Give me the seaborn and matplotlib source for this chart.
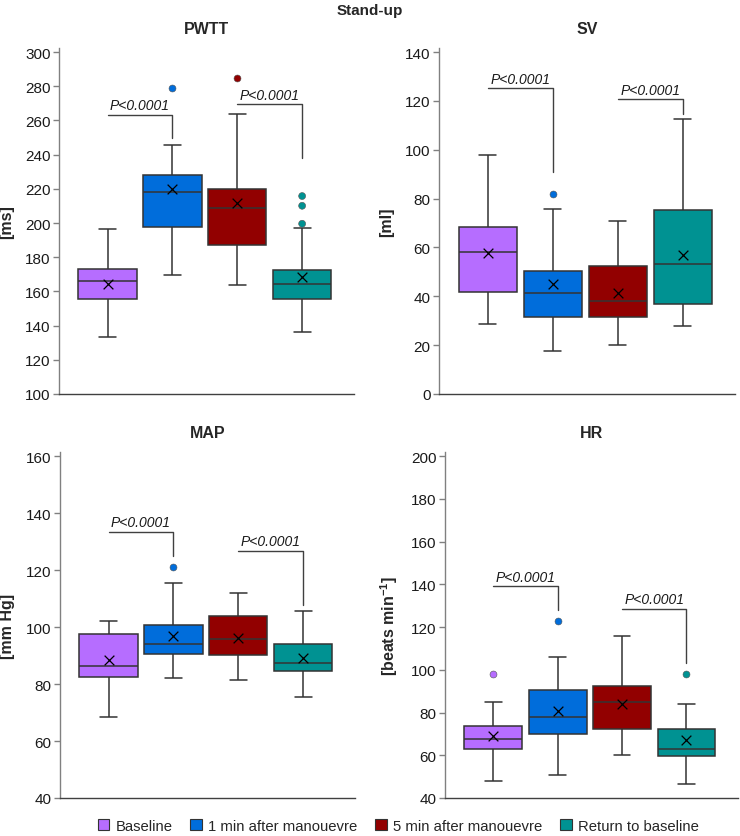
import numpy as np
import pandas as pd
import seaborn as sns
import matplotlib.pyplot as plt
from matplotlib.patches import Patch

groups = ["Baseline", "1 min after manouevre", "5 min after manouevre", "Return to baseline"]
colors = ["#b66dff", "#006ddb", "#920000", "#009292"]

# per panel: whisker low, q1, median, q3, whisker high (one row per group)
pwtt_stats = [[133.3, 155.8, 165.9, 173.3, 196.7],
              [169.6, 197.5, 218.3, 228.1, 245.8],
              [163.5, 187.3, 209.0, 220.1, 263.9],
              [136.5, 155.8, 164.3, 172.7, 197.3]]
pwtt_means = [164.1, 220.1, 211.5, 168.4]
pwtt_out = [[], [279.0], [284.6], [215.8, 210.1, 199.6]]
pwtt_p = [(0, 1, 263.4, 249.9), (2, 3, 269.4, 237.8)]

sv_stats = [[28.5, 41.8, 58.3, 68.4, 98.0],
            [17.5, 31.7, 41.2, 50.3, 75.9],
            [20.2, 31.5, 38.1, 52.3, 70.8],
            [27.8, 36.7, 53.1, 75.3, 112.7]]
sv_means = [57.7, 44.9, 41.5, 57.0]
sv_out = [[], [82.1], [], []]
sv_p = [(0, 1, 125.1, 90.9), (2, 3, 120.6, 114.5)]

map_stats = [[68.6, 82.5, 86.5, 97.5, 102.2],
             [82.0, 90.5, 94.1, 100.6, 115.6],
             [81.3, 90.2, 95.8, 103.9, 112.0],
             [75.3, 84.4, 87.3, 94.0, 105.6]]
map_means = [88.4, 96.8, 96.3, 89.1]
map_out = [[], [121.2], [], []]
map_p = [(0, 1, 133.5, 124.8), (2, 3, 126.7, 107.6)]

hr_stats = [[48.0, 62.8, 67.7, 73.8, 84.7],
            [50.9, 69.8, 78.1, 90.6, 105.9],
            [60.0, 72.3, 84.8, 92.5, 115.6],
            [46.7, 59.8, 62.8, 72.3, 83.8]]
hr_means = [68.9, 80.8, 84.2, 67.3]
hr_out = [[97.8], [122.7], [], [97.8]]
hr_p = [(0, 1, 139.1, 128.1), (2, 3, 128.6, 103.3)]

panels = [
    ("PWTT", "[ms]", pwtt_stats, pwtt_means, pwtt_out, pwtt_p, (100, 300, 20)),
    ("SV", "[ml]", sv_stats, sv_means, sv_out, sv_p, (0, 140, 20)),
    ("MAP", "[mm Hg]", map_stats, map_means, map_out, map_p, (40, 160, 20)),
    ("HR", r"[beats min$^{\mathbf{-1}}$]", hr_stats, hr_means, hr_out, hr_p, (40, 200, 20)),
]
positions = [
    [59/740, 1-395/837, 295/740, 346/837],
    [439/740, 1-395/837, 296/740, 346/837],
    [60/740, 1-799/837, 295/740, 346/837],
    [445/740, 1-799/837, 293/740, 346/837],
]

sns.set_theme(style="white")
plt.rcParams['font.family'] = ['Liberation Sans', 'DejaVu Sans']
plt.rcParams['font.size'] = 11
plt.rcParams['mathtext.fontset'] = 'custom'
plt.rcParams['mathtext.bf'] = 'Liberation Sans:bold'
plt.rcParams['mathtext.rm'] = 'Liberation Sans'

fig = plt.figure(figsize=(7.4, 8.37), dpi=100)
edge = "#333333"
spine = "#808080"
cap_half = 0.13

for (title, ylabel, stats, means, outs, pvals, (ymin, ymax, step)), pos in zip(panels, positions):
    ax = fig.add_axes(pos)
    rows = []
    for g, s in zip(groups, stats):
        for v in s:
            rows.append([g, v])
    df = pd.DataFrame(rows, columns=["group", "value"])
    sns.boxplot(data=df, x="group", y="value", hue="group", order=groups, hue_order=groups,
                palette=colors, saturation=1, whis=(0, 100), width=0.9, linewidth=1.1,
                linecolor=edge, showfliers=False, legend=False, ax=ax)
    # narrower whisker caps
    for ln in list(ax.lines):
        xd = np.asarray(ln.get_xdata(), dtype=float)
        yd = np.asarray(ln.get_ydata(), dtype=float)
        if len(xd) == 2 and yd[0] == yd[1] and 0.05 < abs(xd[1] - xd[0]) < 0.6:
            c = float(xd.mean())
            ln.set_xdata([c - cap_half, c + cap_half])
    mdf = pd.DataFrame({"group": groups, "mean": means})
    sns.stripplot(data=mdf, x="group", y="mean", order=groups, jitter=False, marker="x",
                  color="black", size=7, linewidth=0.9, ax=ax, zorder=5)
    orows = [[g, v] for g, o in zip(groups, outs) for v in o]
    odf = pd.DataFrame(orows, columns=["group", "value"])
    sns.stripplot(data=odf, x="group", y="value", hue="group", order=groups, hue_order=groups,
                  palette=colors, jitter=False, size=5, linewidth=0.4, edgecolor="#555555",
                  legend=False, ax=ax, zorder=5)
    for i0, i1, ytop, ybot in pvals:
        ax.plot([i0, i1, i1], [ytop, ytop, ybot], color="#404040", lw=1)
        ax.text((i0 + i1) / 2, ytop + (ymax - ymin) * 0.008, "P<0.0001", style="italic",
                ha="center", va="bottom", fontsize=10, color="#1a1a1a")
    rng = ymax - ymin
    ax.set_ylim(ymin, ymax + rng * 0.012)
    ax.set_xlim(-0.75, 3.8)
    ax.set_yticks(np.arange(ymin, ymax + step / 2, step))
    ax.set_xticks([])
    ax.set_xlabel("")
    ax.set_ylabel(ylabel, fontweight="bold", fontsize=11.5, labelpad=8)
    ax.set_title(title, fontweight="bold", fontsize=11.5, pad=11)
    for s in ["top", "right"]:
        ax.spines[s].set_visible(False)
    ax.spines["left"].set_color(spine)
    ax.spines["bottom"].set_color("#404040")
    ax.spines["left"].set_linewidth(1)
    ax.spines["bottom"].set_linewidth(1)
    ax.tick_params(axis="y", left=True, length=4, width=1, color=spine, labelsize=11,
                   labelcolor="#1a1a1a", pad=2)

fig.suptitle("Stand-up", fontweight="bold", fontsize=11, y=0.995)
handles = [Patch(facecolor=c, edgecolor="#333333", lw=0.8, label=g) for g, c in zip(groups, colors)]
fig.legend(handles=handles, loc="lower center", ncol=4, frameon=False, fontsize=10.7,
           bbox_to_anchor=(0.538, -0.012), handlelength=0.8, handleheight=0.8,
           handletextpad=0.4, columnspacing=1.2)
fig.savefig("out.png", dpi=100)
